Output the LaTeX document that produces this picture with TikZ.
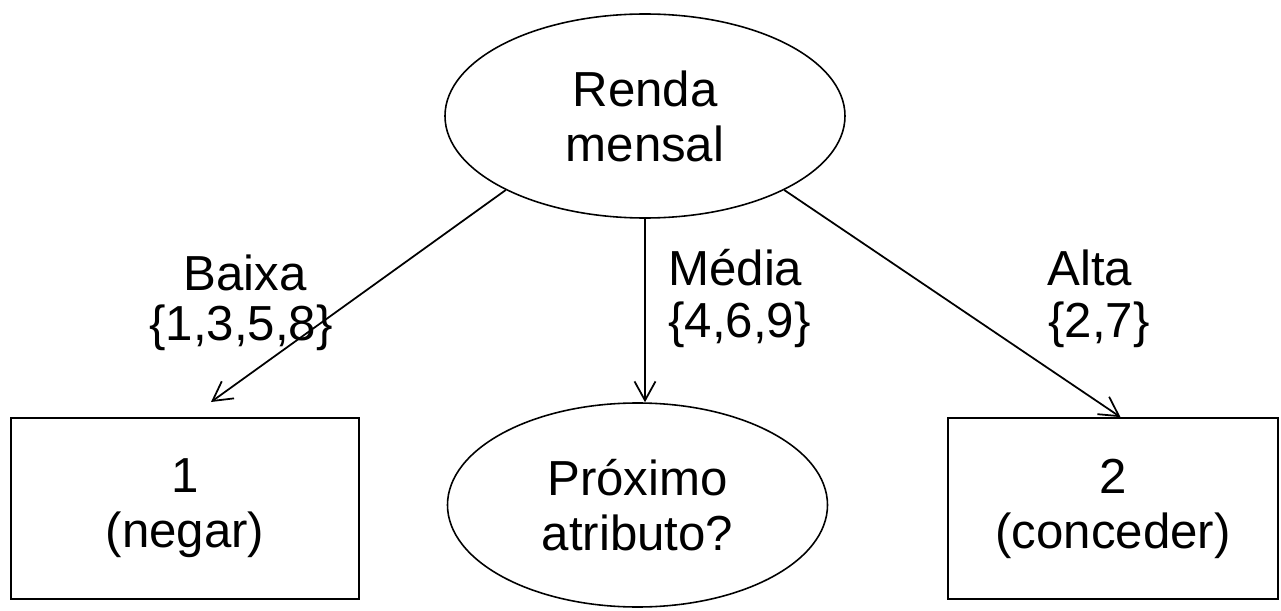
\documentclass[tikz,border=0pt]{standalone}
\usepackage{fontspec}
\setmainfont{Liberation Sans}
\usetikzlibrary{shapes.geometric,arrows.meta}

\begin{document}
\begin{tikzpicture}[
  every node/.style={font=\fontsize{28}{31.3}\selectfont},
  oval/.style={ellipse,draw,line width=0.9pt,align=center,minimum width=8cm,minimum height=4.08cm},
  leaf/.style={rectangle,draw,line width=1pt,align=center,minimum height=3.62cm},
  lab/.style={inner sep=0pt},
  branch/.style={line width=1pt,-{Straight Barb[length=0.38cm,width=0.42cm]}}
]
\useasboundingbox (0,0) rectangle (25.62,12.2);

\node[oval] (renda) at (12.9,9.88) {Renda\\mensal};
\node[oval,minimum width=7.6cm] (prox) at (12.75,2.1) {Próximo\\atributo?};
\node[leaf,minimum width=6.96cm] (negar) at (3.7,2.03) {1\\(negar)};
\node[leaf,minimum width=6.6cm] (conceder) at (22.26,2.03) {2\\(conceder)};

\coordinate (baixaend) at (4.22,4.16);

\draw[branch] (renda.208.8) -- (baixaend);
\draw[branch] (renda.south) -- (renda.south |- prox.north);
\draw[branch] (renda.332.5) -- ([xshift=0.15cm]conceder.north);

\node[lab,anchor=base] (baixa) at (4.9,6.4) {Baixa};
\node[lab,anchor=base] (baixaset) at (4.82,5.4) {\{1,3,5,8\}};
\node[lab,anchor=base west] (media) at (13.36,6.5) {Média};
\node[lab,anchor=base west] (mediaset) at (13.36,5.44) {\{4,6,9\}};
\node[lab,anchor=base west] (alta) at (20.94,6.5) {Alta};
\node[lab,anchor=base west] (altaset) at (20.96,5.44) {\{2,7\}};
\end{tikzpicture}
\end{document}
